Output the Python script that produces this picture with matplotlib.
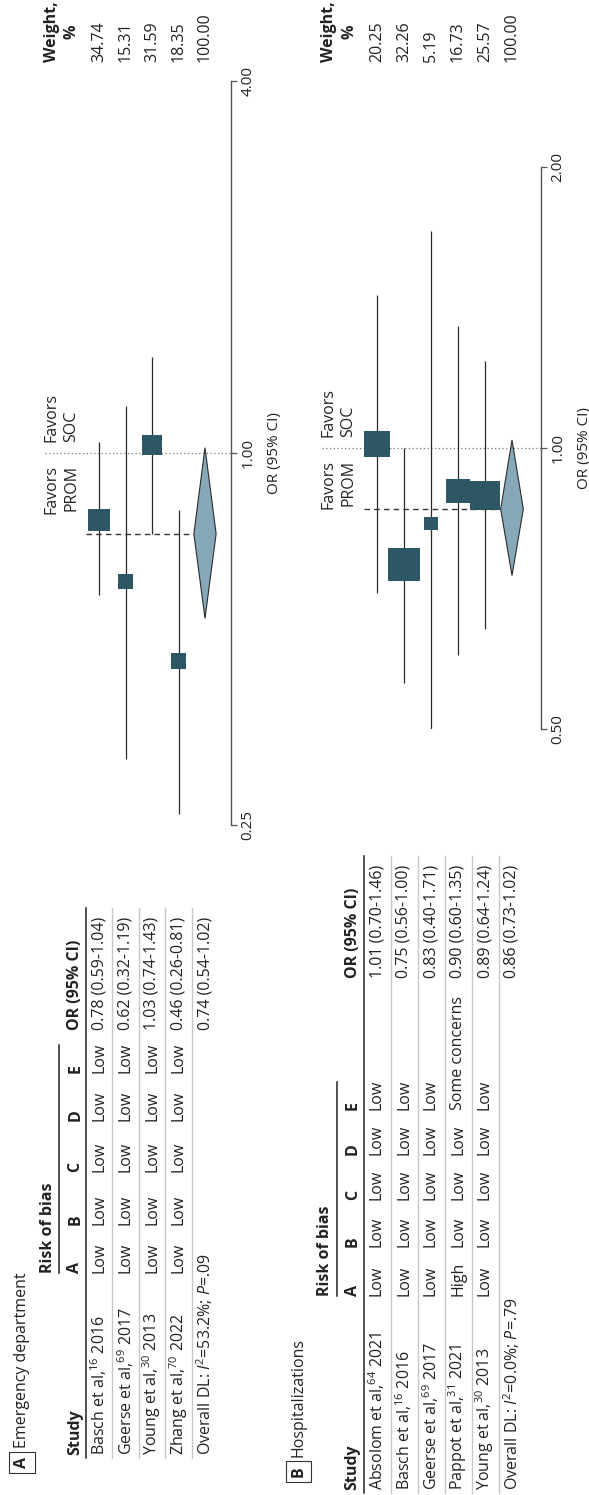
import numpy as np
import matplotlib.pyplot as plt
from matplotlib import transforms
from matplotlib.patches import Polygon
from matplotlib.ticker import NullLocator

plt.rcParams['font.family'] = ['Open Sans', 'DejaVu Sans']
plt.rcParams['mathtext.fontset'] = 'custom'
plt.rcParams['mathtext.rm'] = 'Open Sans'
plt.rcParams['mathtext.it'] = 'Open Sans:italic'
plt.rcParams['mathtext.bf'] = 'Open Sans:bold'

# A: emergency department visits
ed_studies = ["Basch et al,$^{16}$ 2016", "Geerse et al,$^{69}$ 2017",
              "Young et al,$^{30}$ 2013", "Zhang et al,$^{70}$ 2022"]
ed_bias = [["Low", "Low", "Low", "Low", "Low"],
           ["Low", "Low", "Low", "Low", "Low"],
           ["Low", "Low", "Low", "Low", "Low"],
           ["Low", "Low", "Low", "Low", "Low"]]
ed_or = [0.78, 0.62, 1.03, 0.46]
ed_lo = [0.59, 0.32, 0.74, 0.26]
ed_hi = [1.04, 1.19, 1.43, 0.81]
ed_weight = [34.74, 15.31, 31.59, 18.35]
ed_pooled = [0.74, 0.54, 1.02]
ed_pooled_weight = 100.00
ed_pooled_label = "Overall DL: $I^2$=53.2%; $P$=.09"
ed_ticks = [0.25, 1.00, 4.00]

# B: hospitalizations
hosp_studies = ["Absolom et al,$^{64}$ 2021", "Basch et al,$^{16}$ 2016",
                "Geerse et al,$^{69}$ 2017", "Pappot et al,$^{31}$ 2021",
                "Young et al,$^{30}$ 2013"]
hosp_bias = [["Low", "Low", "Low", "Low", "Low"],
             ["Low", "Low", "Low", "Low", "Low"],
             ["Low", "Low", "Low", "Low", "Low"],
             ["High", "Low", "Low", "Low", "Some concerns"],
             ["Low", "Low", "Low", "Low", "Low"]]
hosp_or = [1.01, 0.75, 0.83, 0.90, 0.89]
hosp_lo = [0.70, 0.56, 0.40, 0.60, 0.64]
hosp_hi = [1.46, 1.00, 1.71, 1.35, 1.24]
hosp_weight = [20.25, 32.26, 5.19, 16.73, 25.57]
hosp_pooled = [0.86, 0.73, 1.02]
hosp_pooled_weight = 100.00
hosp_pooled_label = "Overall DL: $I^2$=0.0%; $P$=.79"
hosp_ticks = [0.50, 1.00, 2.00]

bias_domains = ["A", "B", "C", "D", "E"]

W, H = 589, 1495
SQUARE = '#2e5766'
DIAMOND = '#86a8b8'
INK = '#222222'
FS = 11.5

fig = plt.figure(figsize=(W / 100, H / 100), dpi=100)
page = fig.add_axes([0, 0, 1, 1])
page.set_xlim(0, W)
page.set_ylim(H, 0)
page.axis('off')
page.patch.set_visible(False)


def px_axes(left, top, right, bottom):
    return fig.add_axes([left / W, 1 - bottom / H, (right - left) / W, (bottom - top) / H],
                        facecolor='none')


def panel(tag, title, studies, bias, ors, lows, highs, weights, pooled, pooled_weight,
          pooled_label, ticks, box, row0, pitch, box_k, study_y, bias_y, or_y, weight_y,
          table_top, title_y):
    left, top, right, bottom = box
    ax = px_axes(left, top, right, bottom)
    ax.set_xlim((left - row0) / pitch, (right - row0) / pitch)
    ax.set_yscale('log')
    ax.set_ylim(ticks[0], ticks[-1])

    n = len(studies)
    rows = np.arange(n)
    ax.vlines(rows, lows, highs, color='#2a2a2a', lw=0.9, zorder=2)
    sides = box_k * np.sqrt(weights) * 0.72
    ax.scatter(rows, ors, marker='s', s=sides ** 2, color=SQUARE, linewidths=0, zorder=3)

    est, lo, hi = pooled
    ax.add_patch(Polygon([(n, lo), (n + 0.42, est), (n, hi), (n - 0.42, est)],
                         closed=True, fc=DIAMOND, ec='#2b2b2b', lw=0.8, zorder=3))
    ax.plot([-0.5, n - 0.42], [est, est], color='#333333', lw=1.0, dashes=(4, 3),
            clip_on=False, zorder=1)
    ax.plot([-2.05, ax.get_xlim()[1]], [1, 1], color='#777777', lw=0.9,
            linestyle=(0, (1, 2)), clip_on=False, zorder=1)

    ax.annotate("Favors\nPROM", xy=(-1.42, 1.0), xytext=(0, -12), textcoords='offset pixels',
                rotation=90, ha='center', va='top', multialignment='right',
                linespacing=1.3, fontsize=FS, color=INK)
    ax.annotate("Favors\nSOC", xy=(-1.42, 1.0), xytext=(0, 11), textcoords='offset pixels',
                rotation=90, ha='center', va='bottom', multialignment='left',
                linespacing=1.3, fontsize=FS, color=INK)

    for side in ['top', 'bottom', 'left']:
        ax.spines[side].set_visible(False)
    ax.spines['right'].set_color('#555555')
    ax.spines['right'].set_linewidth(1.0)
    ax.set_xticks([])
    ax.yaxis.tick_right()
    ax.yaxis.set_label_position('right')
    ax.set_yticks(ticks)
    ax.set_yticklabels([f"{t:.2f}" for t in ticks])
    ax.yaxis.set_minor_locator(NullLocator())
    ax.tick_params(axis='y', direction='out', length=4, width=0.9, colors='#555555',
                   labelcolor=INK, labelsize=11, pad=3)
    for lab in ax.get_yticklabels():
        lab.set_rotation(90)
        lab.set_va('center')
    ax.set_ylabel("OR (95% CI)", fontsize=11, color=INK, labelpad=8)

    # table text: x follows the forest rows, y is in page pixels
    tr = transforms.blended_transform_factory(ax.transData, page.transData)

    def vtext(r, y, s, **kw):
        kw.setdefault('va', 'bottom')
        page.text(r, y, s, rotation=90, ha='center', transform=tr, fontsize=FS,
                  color=INK, **kw)

    vtext(-2.9, title_y, title)
    vtext(-2.9, title_y + 9, tag, va='top', fontweight='bold',
          bbox=dict(boxstyle='square,pad=0.3', fc='white', ec='#333333', lw=0.8))
    vtext(-0.9, study_y, "Study", fontweight='bold')
    vtext(-1.92, bias_y[0], "Risk of bias", fontweight='bold')
    for d, y in zip(bias_domains, bias_y):
        vtext(-0.9, y, d, fontweight='bold')
    vtext(-0.9, or_y, "OR (95% CI)", fontweight='bold')
    vtext(-1.4, weight_y, "Weight,\n%", fontweight='bold', linespacing=1.3)

    for i in range(n):
        vtext(i, study_y, studies[i])
        for cell, y in zip(bias[i], bias_y):
            vtext(i, y, cell)
        vtext(i, or_y, f"{ors[i]:.2f} ({lows[i]:.2f}-{highs[i]:.2f})")
        vtext(i, weight_y, f"{weights[i]:.2f}")
    vtext(n, study_y, pooled_label)
    vtext(n, or_y, f"{est:.2f} ({lo:.2f}-{hi:.2f})")
    vtext(n, weight_y, f"{pooled_weight:.2f}")

    # rules: header, between rows, and under "Risk of bias"
    page.plot([-0.5, -0.5], [study_y + 3, table_top], transform=tr, color=INK, lw=1.1)
    for r in np.arange(n) + 0.5:
        page.plot([r, r], [study_y + 3, table_top], transform=tr, color='#c8c8c2', lw=1.0)
    page.plot([-1.5, -1.5], [bias_y[0], bias_y[-1] - 28], transform=tr, color=INK, lw=1.1)
    return ax


panel("A", "Emergency department", ed_studies, ed_bias, ed_or, ed_lo, ed_hi, ed_weight,
      ed_pooled, ed_pooled_weight, ed_pooled_label, ed_ticks,
      box=(0, 81, 231, 825), row0=99, pitch=26.5, box_k=3.7,
      study_y=1455, bias_y=[1273, 1225, 1172, 1121, 1073], or_y=1030, weight_y=62,
      table_top=908, title_y=1448)

panel("B", "Hospitalizations", hosp_studies, hosp_bias, hosp_or, hosp_lo, hosp_hi, hosp_weight,
      hosp_pooled, hosp_pooled_weight, hosp_pooled_label, hosp_ticks,
      box=(280, 167, 541, 729), row0=377, pitch=27, box_k=5.8,
      study_y=1490, bias_y=[1296, 1247, 1200, 1155, 1110], or_y=978, weight_y=62,
      table_top=856, title_y=1457)

fig.savefig("out.png", dpi=100)
